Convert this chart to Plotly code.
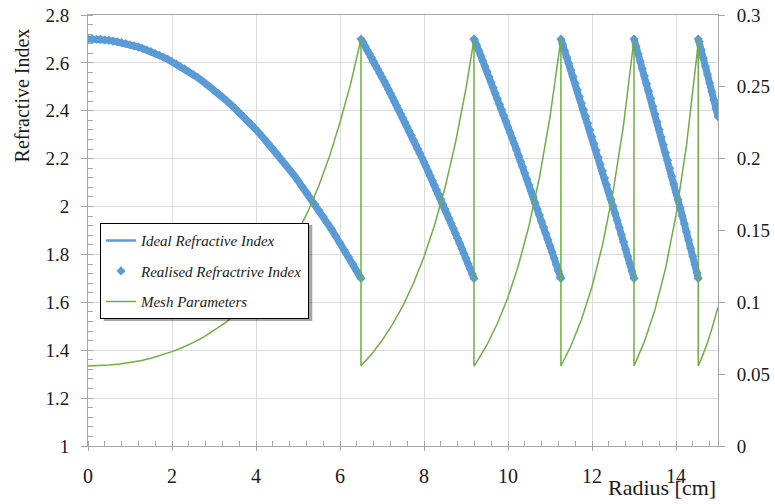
import plotly.graph_objects as go

# ---------------- data ----------------
radius_seg1 = [0.0, 0.1, 0.2, 0.3, 0.4, 0.5, 0.6, 0.7, 0.8, 0.9,
               1.0, 1.1, 1.2, 1.3, 1.4, 1.5, 1.6, 1.7, 1.8, 1.9,
               2.0, 2.1, 2.2, 2.3, 2.4, 2.5, 2.6, 2.7, 2.8, 2.9,
               3.0, 3.1, 3.2, 3.3, 3.4, 3.5, 3.6, 3.7, 3.8, 3.9,
               4.0, 4.1, 4.2, 4.3, 4.4, 4.5, 4.6, 4.7, 4.8, 4.9,
               5.0, 5.1, 5.2, 5.3, 5.4, 5.5, 5.6, 5.7, 5.8, 5.9,
               6.0, 6.1, 6.2, 6.3, 6.4, 6.5]
index_seg1 = [2.700, 2.700, 2.699, 2.698, 2.696, 2.694, 2.691, 2.688, 2.685, 2.681,
              2.676, 2.671, 2.666, 2.660, 2.654, 2.647, 2.639, 2.632, 2.623, 2.615,
              2.605, 2.596, 2.585, 2.575, 2.564, 2.552, 2.540, 2.527, 2.514, 2.501,
              2.487, 2.473, 2.458, 2.442, 2.426, 2.410, 2.393, 2.376, 2.358, 2.340,
              2.321, 2.302, 2.282, 2.262, 2.242, 2.221, 2.199, 2.177, 2.155, 2.132,
              2.108, 2.084, 2.060, 2.035, 2.010, 1.984, 1.958, 1.931, 1.904, 1.876,
              1.848, 1.819, 1.790, 1.761, 1.731, 1.700]

radius_seg2 = [6.5, 6.55, 6.6, 6.65, 6.7, 6.75, 6.8, 6.85, 6.9, 6.95,
               7.0, 7.05, 7.1, 7.15, 7.2, 7.25, 7.3, 7.35, 7.4, 7.45,
               7.5, 7.55, 7.6, 7.65, 7.7, 7.75, 7.8, 7.85, 7.9, 7.95,
               8.0, 8.05, 8.1, 8.15, 8.2, 8.25, 8.3, 8.35, 8.4, 8.45,
               8.5, 8.55, 8.6, 8.65, 8.7, 8.75, 8.8, 8.85, 8.9, 8.95,
               9.0, 9.05, 9.1, 9.15, 9.19]
index_seg2 = [2.700, 2.685, 2.669, 2.653, 2.638, 2.622, 2.606, 2.589, 2.573, 2.557,
              2.540, 2.524, 2.507, 2.490, 2.473, 2.456, 2.439, 2.421, 2.404, 2.386,
              2.369, 2.351, 2.333, 2.315, 2.297, 2.278, 2.260, 2.241, 2.223, 2.204,
              2.185, 2.166, 2.147, 2.128, 2.109, 2.089, 2.069, 2.050, 2.030, 2.010,
              1.990, 1.970, 1.949, 1.929, 1.909, 1.888, 1.867, 1.846, 1.825, 1.804,
              1.783, 1.761, 1.740, 1.718, 1.700]

radius_seg3 = [9.19, 9.2, 9.25, 9.3, 9.35, 9.4, 9.45, 9.5, 9.55, 9.6, 9.65,
               9.7, 9.75, 9.8, 9.85, 9.9, 9.95, 10.0, 10.05, 10.1, 10.15,
               10.2, 10.25, 10.3, 10.35, 10.4, 10.45, 10.5, 10.55, 10.6, 10.65,
               10.7, 10.75, 10.8, 10.85, 10.9, 10.95, 11.0, 11.05, 11.1, 11.15,
               11.2, 11.25, 11.26]
index_seg3 = [2.700, 2.697, 2.675, 2.653, 2.631, 2.609, 2.586, 2.564, 2.541, 2.519, 2.496,
              2.473, 2.450, 2.427, 2.404, 2.380, 2.357, 2.333, 2.309, 2.286, 2.262,
              2.238, 2.213, 2.189, 2.165, 2.140, 2.115, 2.091, 2.066, 2.041, 2.015,
              1.990, 1.965, 1.939, 1.914, 1.888, 1.862, 1.836, 1.810, 1.784, 1.757,
              1.731, 1.704, 1.700]

radius_seg4 = [11.26, 11.3, 11.35, 11.4, 11.45, 11.5, 11.55, 11.6, 11.65, 11.7, 11.75,
               11.8, 11.85, 11.9, 11.95, 12.0, 12.05, 12.1, 12.15, 12.2, 12.25,
               12.3, 12.35, 12.4, 12.45, 12.5, 12.55, 12.6, 12.65, 12.7, 12.75,
               12.8, 12.85, 12.9, 12.95, 13.0]
index_seg4 = [2.700, 2.678, 2.651, 2.624, 2.597, 2.570, 2.543, 2.515, 2.488, 2.460, 2.432,
              2.404, 2.376, 2.348, 2.320, 2.292, 2.263, 2.235, 2.206, 2.177, 2.148,
              2.119, 2.090, 2.061, 2.031, 2.002, 1.972, 1.942, 1.912, 1.882, 1.852,
              1.822, 1.792, 1.761, 1.731, 1.700]

radius_seg5 = [13.0, 13.05, 13.1, 13.15, 13.2, 13.25, 13.3, 13.35, 13.4, 13.45, 13.5,
               13.55, 13.6, 13.65, 13.7, 13.75, 13.8, 13.85, 13.9, 13.95, 14.0,
               14.05, 14.1, 14.15, 14.2, 14.25, 14.3, 14.35, 14.4, 14.45, 14.5, 14.53]
index_seg5 = [2.700, 2.669, 2.638, 2.607, 2.576, 2.545, 2.513, 2.482, 2.450, 2.418, 2.386,
              2.354, 2.322, 2.290, 2.258, 2.225, 2.193, 2.160, 2.127, 2.094, 2.061,
              2.028, 1.994, 1.961, 1.927, 1.894, 1.860, 1.826, 1.792, 1.758, 1.724, 1.700]

radius_seg6 = [14.53, 14.55, 14.6, 14.65, 14.7, 14.75, 14.8, 14.85, 14.9, 14.95, 15.0]
index_seg6 = [2.700, 2.689, 2.655, 2.620, 2.585, 2.551, 2.516, 2.481, 2.445, 2.410, 2.375]

radius_mesh = [0.0, 0.25, 0.5, 0.75, 1.0, 1.25, 1.5, 1.75, 2.0, 2.25, 2.5, 2.75, 3.0,
               3.25, 3.5, 3.75, 4.0, 4.25, 4.5, 4.75, 5.0, 5.25, 5.5, 5.75, 6.0, 6.25, 6.5,
               6.5, 6.75, 7.0, 7.25, 7.5, 7.75, 8.0, 8.25, 8.5, 8.75, 9.0, 9.19,
               9.19, 9.25, 9.5, 9.75, 10.0, 10.25, 10.5, 10.75, 11.0, 11.25, 11.26,
               11.26, 11.5, 11.75, 12.0, 12.25, 12.5, 12.75, 12.9, 13.0,
               13.0, 13.25, 13.5, 13.75, 14.0, 14.25, 14.5, 14.53,
               14.53, 14.6, 14.75, 14.85, 15.0]
mesh_param = [0.0557, 0.0558, 0.0563, 0.0570, 0.0581, 0.0594, 0.0611, 0.0632, 0.0657, 0.0686,
              0.0719, 0.0758, 0.0803, 0.0854, 0.0913, 0.0980, 0.1056, 0.1144, 0.1244, 0.1359,
              0.1490, 0.1641, 0.1815, 0.2016, 0.2254, 0.2517, 0.2831,
              0.0557, 0.0638, 0.0734, 0.0846, 0.0977, 0.1133, 0.1317, 0.1537, 0.1798, 0.2112, 0.2489, 0.2831,
              0.0557, 0.0582, 0.0705, 0.0854, 0.1036, 0.1259, 0.1533, 0.1871, 0.2290, 0.2811, 0.2831,
              0.0557, 0.0698, 0.0880, 0.1109, 0.1398, 0.1765, 0.2233, 0.2573, 0.2831,
              0.0557, 0.0728, 0.0949, 0.1235, 0.1607, 0.2092, 0.2728, 0.2831,
              0.0557, 0.0603, 0.0721, 0.0812, 0.0968]

x_ticks = [0, 2, 4, 6, 8, 10, 12, 14]
# ------------------------------------------------------------

seg_r = [radius_seg1, radius_seg2, radius_seg3, radius_seg4, radius_seg5, radius_seg6]
seg_n = [index_seg1, index_seg2, index_seg3, index_seg4, index_seg5, index_seg6]
for a, b in zip(seg_r, seg_n):
    assert len(a) == len(b), (len(a), len(b))
assert len(radius_mesh) == len(mesh_param)

ideal_x, ideal_y, real_x, real_y = [], [], [], []
for a, b in zip(seg_r, seg_n):
    ideal_x += a + [None]
    ideal_y += b + [None]
    real_x += a
    real_y += b

BLUE = "#5B9BD5"
GREEN = "#70AD47"
AX = "#a6a6a6"
GRID = "#dcdcdc"
SERIF = "Liberation Serif"
TXT = "#1a1a1a"

fig = go.Figure()
# ideal profile drawn under the realised points (forms the continuous band)
fig.add_trace(go.Scatter(x=ideal_x, y=ideal_y, mode="lines", name="Ideal Refractive Index",
                         line=dict(color=BLUE, width=7), legendgroup="a", showlegend=False))
# legend entry for the ideal profile (thin line as in the reference legend)
fig.add_trace(go.Scatter(x=[None], y=[None], mode="lines", name="Ideal Refractive Index",
                         line=dict(color=BLUE, width=2.5), legendgroup="a"))
fig.add_trace(go.Scatter(x=real_x, y=real_y, mode="markers", name="Realised Refractrive Index",
                         marker=dict(symbol="diamond", size=7, color=BLUE), legendgroup="b"))
fig.add_trace(go.Scatter(x=radius_mesh, y=mesh_param, mode="lines", name="Mesh Parameters",
                         line=dict(color=GREEN, width=1.5), yaxis="y2", legendgroup="c"))

fig.update_layout(
    width=775, height=504,
    margin=dict(l=88, r=57, t=15, b=58, autoexpand=False),
    paper_bgcolor="white", plot_bgcolor="white",
    font=dict(family=SERIF, color=TXT),
    xaxis=dict(range=[0, 15], tickvals=x_ticks, showgrid=True, gridcolor=GRID,
               showline=True, linecolor=AX, mirror=True, zeroline=False,
               ticks="outside", ticklen=4, tickcolor=AX,
               minor=dict(dtick=0.4, tick0=0, ticks="inside", ticklen=5, tickcolor=AX, showgrid=False),
               tickfont=dict(size=20, family=SERIF, color=TXT), ticklabelstandoff=8),
    yaxis=dict(range=[1, 2.8], dtick=0.2, tick0=1, showgrid=True, gridcolor=GRID,
               showline=True, linecolor=AX, zeroline=False,
               ticks="outside", ticklen=6, tickcolor=AX,
               minor=dict(dtick=0.04, tick0=1, ticks="inside", ticklen=5, tickcolor=AX, showgrid=False),
               tickfont=dict(size=19, family=SERIF, color=TXT), ticklabelstandoff=8),
    yaxis2=dict(range=[0, 0.3], dtick=0.05, tick0=0, overlaying="y", side="right",
                showgrid=False, showline=True, linecolor=AX, zeroline=False,
                ticks="outside", ticklen=6, tickcolor=AX,
                tickfont=dict(size=19, family=SERIF, color=TXT), ticklabelstandoff=8),
    legend=dict(x=0.019, y=0.517, xanchor="left", yanchor="top",
                bgcolor="white", bordercolor="#000000", borderwidth=1,
                font=dict(size=15, family=SERIF, color=TXT, style="italic"),
                traceorder="grouped", tracegroupgap=8),
    showlegend=True,
    annotations=[
        dict(text="Refractive Index", xref="paper", yref="paper", x=-0.105, y=0.813,
             xanchor="center", yanchor="middle", textangle=-90, showarrow=False,
             font=dict(size=20, family=SERIF, color=TXT)),
        dict(text="Radius [cm]", xref="paper", yref="paper", x=1.0, y=-0.097,
             xanchor="right", yanchor="middle", showarrow=False,
             font=dict(size=22, family=SERIF, color=TXT)),
    ],
    shapes=[
        dict(type="rect", xref="paper", yref="paper", x0=0.025, x1=0.356, y0=0.290, y1=0.513,
             fillcolor="rgba(0,0,0,0.35)", line=dict(width=0), layer="above"),
    ],
)

fig.write_html("out.html", config={"displayModeBar": False},
               post_script="document.body.style.margin='0';")
